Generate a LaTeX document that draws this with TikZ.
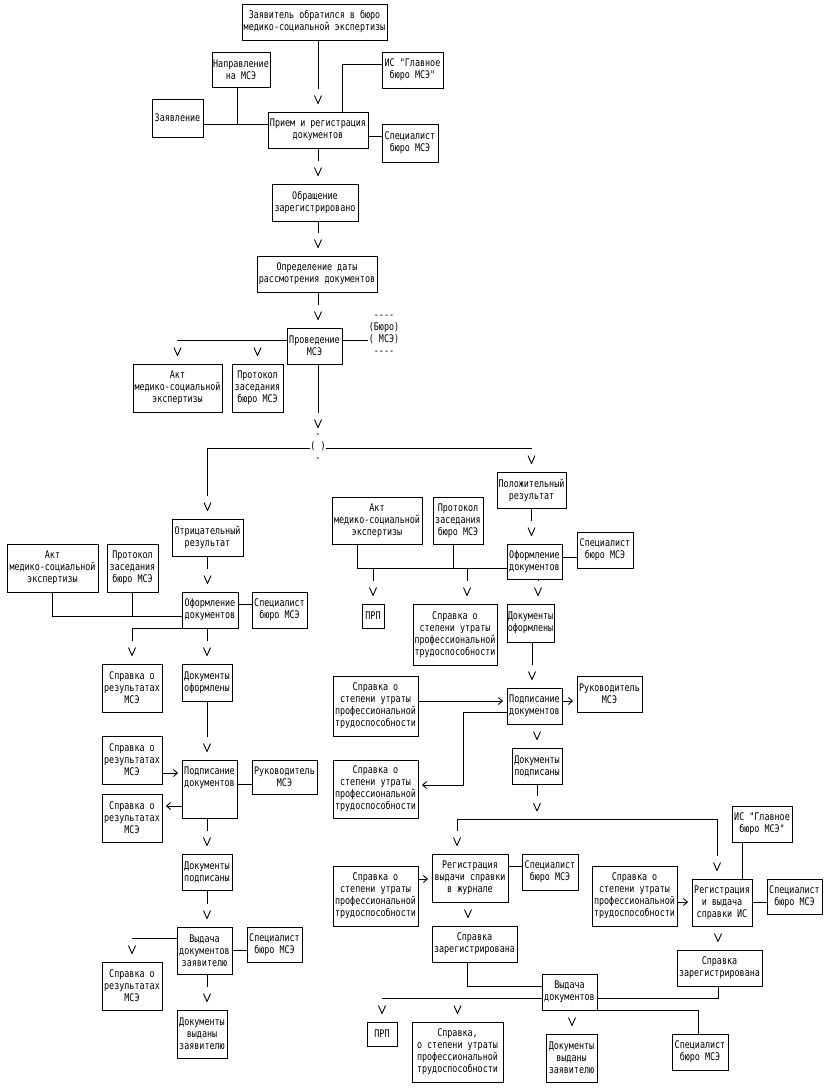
\documentclass[tikz,border=0pt]{standalone}
\usepackage{fontspec}
\newfontfamily\pf{DejaVu Sans Mono}[FakeStretch=0.8]
\usetikzlibrary{arrows.meta}

\newcommand\dashrow{-\kern0pt-\kern0pt-\kern0pt-}

\pgfdeclarearrow{
  name = Vgap,
  setup code = {
    \pgfarrowssettipend{0pt}
    \pgfarrowssetlineend{-15pt}
    \pgfarrowssetbackend{-15pt}
    \pgfarrowshullpoint{0pt}{0pt}
    \pgfarrowsupperhullpoint{-8pt}{3.5pt}
  },
  drawing code = {
    \pgfsetroundjoin
    \pgfpathmoveto{\pgfqpoint{-8pt}{3.5pt}}
    \pgfpathlineto{\pgfqpoint{0pt}{0pt}}
    \pgfpathlineto{\pgfqpoint{-8pt}{-3.5pt}}
    \pgfusepathqstroke
  }
}

\begin{document}
\begin{tikzpicture}[x=1pt, y=-1pt, line width=0.9pt,
  font=\pf\fontsize{10.5}{12}\selectfont,
  box/.style 2 args={draw, align=center, inner sep=0pt, minimum width=#1, minimum height=#2},
  vto/.style={-Vgap, shorten >=8pt},
  hto/.style={-{Straight Barb[length=4pt,width=7pt]}, shorten >=3.5pt}]
\useasboundingbox (0,0) rectangle (832,1091);

% top part
\node[box={145}{36}] (zayav) at (314.5,22) {Заявитель обратился в бюро\\медико-социальной экспертизы};
\node[box={58}{35}] (napr) at (241,69.5) {Направление\\на МСЭ};
\node[box={51}{38}] (zayavl) at (177.5,118) {Заявление};
\node[box={61}{36}] (is1) at (412.5,70) {ИС "Главное\\бюро МСЭ"};
\node[box={100}{36}] (priem) at (318,130) {Прием и регистрация\\документов};
\node[box={56}{38}] (spec1) at (410,143) {Специалист\\бюро МСЭ};
\node[box={86}{37}] (obr) at (315,202.5) {Обращение\\зарегистрировано};
\node[box={120}{36}] (opr) at (317,274) {Определение даты\\рассмотрения документов};
\node[box={55}{36}] (prov) at (314.5,346) {Проведение\\МСЭ};
\node[align=center, inner sep=0pt] (buro) at (384,334.5) {\dashrow\\(Бюро)\\( МСЭ)\\\dashrow};
\node[box={89}{48}] (akt1) at (177.5,388) {Акт\\медико-социальной\\экспертизы};
\node[box={51}{48}] (prot1) at (257.5,388) {Протокол\\заседания\\бюро МСЭ};
\node[align=center, inner sep=0pt, minimum height=36] (dec) at (318,448) {-\\( )\\-};

\draw[vto] (zayav.south -| priem) -- (priem);
\draw (zayavl.east |- 0,124) -- (priem.west |- 0,124);
\draw (napr.south -| 237,0) -- (237,124);
\draw (is1.west |- 0,64) -| (priem.north -| 342,0);
\draw (spec1.west |- 0,136) -- (priem.east |- 0,136);
\draw[vto] (priem) -- (priem |- obr.north);
\draw[vto] (obr.south -| priem) -- (opr.north -| priem);
\draw[vto] (opr.south -| priem) -- (prov.north -| priem);
\draw (prov.east |- 0,340) -- (buro.west |- 0,340);
\draw[vto] (prov.west |- 0,340) -| (akt1);
\draw[vto] (prov.west |- 0,340) -| (prot1);
\draw[vto, shorten >=2pt] (prov.south -| priem) -- (dec);

% negative result
\begin{scope}
\node[box={71}{37}] (otr) at (207.5,537.5) {Отрицательный\\результат};
\node[box={91}{48}] (akt2) at (52.5,568) {Акт\\медико-социальной\\экспертизы};
\node[box={51}{48}] (prot2) at (132.5,568) {Протокол\\заседания\\бюро МСЭ};
\node[box={56}{36}] (oform1) at (210,610) {Оформление\\документов};
\node[box={55}{36}] (spec2) at (279.5,610) {Специалист\\бюро МСЭ};
\node[box={60}{48}] (spr1) at (132,688) {Справка о\\результатах\\МСЭ};
\node[box={50}{37}] (dok1) at (207,682.5) {Документы\\оформлены};
\node[box={60}{48}] (spr2) at (132,760) {Справка о\\результатах\\МСЭ};
\node[box={55}{58}] (podp1) at (209.5,789) {Подписание\\документов\\\mbox{}\\\mbox{}};
\node[box={60}{48}] (spr3) at (132,818) {Справка о\\результатах\\МСЭ};
\node[box={65}{34}] (ruk1) at (284.5,777) {Руководитель\\МСЭ};
\node[box={50}{36}] (dok2) at (207,872) {Документы\\подписаны};
\node[box={55}{47}] (vyd1) at (204.5,950.5) {Выдача\\документов\\заявителю};
\node[box={55}{35}] (spec3) at (274.5,944.5) {Специалист\\бюро МСЭ};
\node[box={60}{48}] (spr4) at (132,986) {Справка о\\результатах\\МСЭ};
\node[box={50}{48}] (dokv1) at (202,1034) {Документы\\выданы\\заявителю};

\draw[vto] (dec.west) -| (otr);
\draw[vto] (otr) -- (otr |- oform1.north);
\draw (oform1.east |- 0,604) -- (spec2.west |- 0,604);
\draw (akt2) |- (oform1.west |- 0,616);
\draw (prot2) -- (prot2 |- 0,616);
\draw[vto] (oform1.south west) -| (spr1);
\draw[vto] (oform1.south -| dok1) -- (dok1);
\draw[vto] (dok1) -- (dok1 |- podp1.north);
\draw[hto] (spr2.east |- 0,773) -- (podp1.west |- 0,773);
\draw[hto] (podp1.west |- 0,806) -- (spr3.east |- 0,806);
\draw (podp1.east |- 0,784) -- (ruk1.west |- 0,784);
\draw[vto] (podp1.south -| dok1) -- (dok2);
\draw[vto] (dok2) -- (dok2 |- vyd1.north);
\draw (vyd1.east |- 0,950) -- (spec3.west |- 0,950);
\draw[vto] (vyd1.west |- 0,938) -| (spr4);
\draw[vto] (vyd1.south -| dok1) -- (dok1 |- dokv1.north);
\end{scope}

% positive result
\begin{scope}
\node[box={69}{36}] (pol) at (531.5,490) {Положительный\\результат};
\node[box={90}{47}] (akt3) at (377,520.5) {Акт\\медико-социальной\\экспертизы};
\node[box={50}{47}] (prot3) at (458,520.5) {Протокол\\заседания\\бюро МСЭ};
\node[box={55}{35}] (oform2) at (534.5,561.5) {Оформление\\документов};
\node[box={56}{36}] (spec4) at (605,550) {Специалист\\бюро МСЭ};
\node[box={22}{24}] (prp1) at (373,616) {ПРП};
\node[box={84}{61}] (sst1) at (455,634.5) {Справка о\\степени утраты\\профессиональной\\трудоспособности};
\node[box={47}{38}] (dok3) at (530.5,623) {Документы\\оформлены};
\node[box={85}{60}] (sst2) at (375.5,706) {Справка о\\степени утраты\\профессиональной\\трудоспособности};
\node[box={55}{36}] (podp2) at (534.5,706) {Подписание\\документов};
\node[box={65}{36}] (ruk2) at (609.5,694) {Руководитель\\МСЭ};
\node[box={85}{58}] (sst3) at (375.5,789) {Справка о\\степени утраты\\профессиональной\\трудоспособности};
\node[box={50}{36}] (dok4) at (537,766) {Документы\\подписаны};
\coordinate (bus) at (537,819);
\node[box={76}{48}] (regj) at (470,878) {Регистрация\\выдачи справки\\в журнале};
\node[box={56}{36}] (spec5) at (550,872) {Специалист\\бюро МСЭ};
\node[box={85}{60}] (sst4) at (375.5,896) {Справка о\\степени утраты\\профессиональной\\трудоспособности};
\node[box={85}{36}] (zar1) at (474.5,944) {Справка\\зарегистрирована};
\node[box={60}{36}] (is2) at (762,824) {ИС "Главное\\бюро МСЭ"};
\node[box={60}{47}] (regis) at (722,902.5) {Регистрация\\и выдача\\справки ИС};
\node[box={55}{35}] (spec6) at (794.5,896.5) {Специалист\\бюро МСЭ};
\node[box={85}{60}] (sst5) at (634.5,896) {Справка о\\степени утраты\\профессиональной\\трудоспособности};
\node[box={85}{36}] (zar2) at (719.5,968) {Справка\\зарегистрирована};
\node[box={55}{36}] (vyd2) at (569.5,992) {Выдача\\документов};
\node[box={30}{24}] (prp2) at (382,1034) {ПРП};
\node[box={91}{60}] (sst6) at (457.5,1052) {Справка,\\о степени утраты\\профессиональной\\трудоспособности};
\node[box={51}{48}] (dokv2) at (571.5,1058) {Документы\\выданы\\заявителю};
\node[box={56}{36}] (spec7) at (700,1052) {Специалист\\бюро МСЭ};

\draw[vto] (dec.east) -| (pol);
\draw[vto] (pol) -- (pol |- oform2.north);
\draw (oform2.east |- 0,557) -- (spec4.west |- 0,557);
\draw (akt3.south -| 357,0) |- (oform2.west |- 0,568);
\draw (prot3.south -| 453,0) -- (453,568);
\draw[vto] (prp1 |- 0,568) -- (prp1);
\draw[vto] (467,568) -- (sst1.north -| 467,0);
\draw[vto] (oform2.south -| 538,0) -- (dok3.north -| 538,0);
\draw[vto] (dok3.south -| 532,0) -- (podp2.north -| 532,0);
\draw[hto] (sst2.east |- 0,701) -- (podp2.west |- 0,701);
\draw[hto] (podp2.east |- 0,701) -- (ruk2.west |- 0,701);
\draw[hto] (podp2.west |- 0,712) -| (463,785) -- (sst3.east |- 0,785);
\draw[vto] (podp2.south -| dok4) -- (dok4);
\draw[vto] (dok4) -- (bus);
\draw[vto] (bus) -| (regj.north -| 457,0);
\draw[vto] (bus) -| (regis.north -| 717,0);
\draw (regj.east |- 0,866) -- (spec5.west |- 0,866);
\draw[hto] (sst4.east |- 0,879) -- (regj.west |- 0,879);
\draw[vto] (regj.south -| 468,0) -- (zar1.north -| 468,0);
\draw (zar1.south -| 467,0) |- (vyd2.west |- 0,986);
\draw (is2.south -| 742,0) -- (regis.north -| 742,0);
\draw (regis.east |- 0,902) -- (spec6.west |- 0,902);
\draw[hto] (sst5.east |- 0,902) -- (regis.west |- 0,902);
\draw[vto] (regis.south -| 718,0) -- (zar2.north -| 718,0);
\draw (zar2.south -| 718,0) |- (vyd2.east |- 0,998);
\draw[vto] (vyd2.west |- 0,998) -| (prp2);
\draw[vto] (vyd2.west |- 0,998) -| (sst6);
\draw[vto] (vyd2.south -| 572,0) -- (dokv2.north -| 572,0);
\draw (vyd2.south east) -| (spec7.north -| 698,0);
\end{scope}

\end{tikzpicture}
\end{document}
